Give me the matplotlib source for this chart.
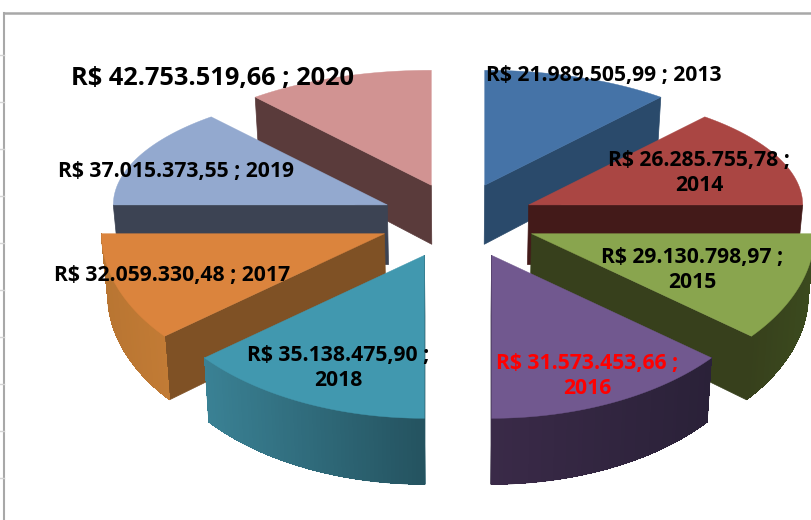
import numpy as np
import matplotlib
matplotlib.use('Agg')
import matplotlib.pyplot as plt
from matplotlib.colors import to_rgb

# slices clockwise from the top, as they sit in the picture
labels = ['R$ 21.989.505,99 ; 2013', 'R$ 26.285.755,78 ;\n2014', 'R$ 29.130.798,97 ;\n2015',
          'R$ 31.573.453,66 ;\n2016', 'R$ 35.138.475,90 ;\n2018', 'R$ 32.059.330,48 ; 2017',
          'R$ 37.015.373,55 ; 2019', 'R$ 42.753.519,66 ; 2020']
# sweep of each slice in degrees (not proportional to the labels)
sweeps = [40, 50, 39, 51, 51, 39, 50, 40]

top_colors = ['#4573A7', '#AA4643', '#89A54E', '#71588F', '#4198AF', '#DB843D', '#93A9CF', '#D19392']
cut_colors = ['#2A4A6B', '#431A19', '#37401C', '#2A2138', '#24525F', '#7F5125', '#3C4353', '#5A3B3B']
rim_left = ['#2A4A6B', '#431A19', '#37401C', '#3A2A48', '#3A8194', '#B87532', '#3C4353', '#5A3B3B']
rim_right = ['#2A4A6B', '#431A19', '#3B4A1E', '#2A2138', '#24525F', '#C27B35', '#3C4353', '#5A3B3B']
label_xy = [(604, 76), (699, 173), (692, 270), (587, 376), (338, 368), (172, 276), (176, 172), (213, 79)]
label_colors = ['black', 'black', 'black', 'red', 'black', 'black', 'black', 'black']
label_sizes = [15.2, 15.2, 15.2, 15.2, 15.2, 15.2, 15.2, 18.3]
draw_order = [0, 7, 1, 6, 2, 5, 3, 4]

cx, cy = 458, 221


def depth(y):
    return 59 + (y - 185) * 7 / 233


def drop(x, y):
    # point on the underside of the slice, slightly pulled in by the perspective
    return cx + (np.asarray(x) - cx) * 0.983, np.asarray(y) + depth(np.asarray(y))


def draw_slice(ax, i, start, end):
    mid = np.radians((start + end) / 2)
    tx = cx + 78 * np.sin(mid)
    ty = cy - 38 * np.cos(mid)
    lower = np.cos(mid) < 0
    rx, ry = (283, 163) if lower else (274, 115)
    t = np.radians(np.linspace(start, end, 60))
    ax_x = tx + rx * np.sin(t)
    ax_y = ty - ry * np.cos(t)

    # flat cut face, the edge turned to the viewer
    if mid < np.pi:
        ex, ey = ax_x[-1], ax_y[-1]
    else:
        ex, ey = ax_x[0], ax_y[0]
    bx, by = drop([tx, ex], [ty, ey])
    ax.fill([tx, ex, bx[1], bx[0]], [ty, ey, by[1], by[0]], color=cut_colors[i], lw=0.5)

    # outer rim: a plain band first, then shaded strips over it
    if lower:
        low_x, low_y = drop(ax_x, ax_y)
        c0, c1 = np.array(to_rgb(rim_left[i])), np.array(to_rgb(rim_right[i]))
        ax.fill(np.r_[ax_x, low_x[::-1]], np.r_[ax_y, low_y[::-1]], color=(c0 + c1) / 2, lw=0.5)
        order = np.argsort(ax_x)
        span = ax_x.max() - ax_x.min()
        for a, b in zip(order[:-1], order[1:]):
            c = c0 + (c1 - c0) * (ax_x[a] - ax_x.min()) / span
            ax.fill([ax_x[a], ax_x[b], low_x[b], low_x[a]], [ax_y[a], ax_y[b], low_y[b], low_y[a]],
                    facecolor=c, edgecolor='none', antialiased=False)

    ax.fill(np.r_[tx, ax_x], np.r_[ty, ax_y], color=top_colors[i], lw=0.3)


fig = plt.figure(figsize=(8.12, 5.2), dpi=100)
ax = fig.add_axes([0, 0, 1, 1])
ax.set_xlim(0, 812)
ax.set_ylim(520, 0)
ax.axis('off')

# chart frame and the bits of sheet grid to the left of it
ax.plot([4, 812], [13, 13], color='#A8A8A8', lw=1.8)
ax.plot([4, 4], [13, 520], color='#A8A8A8', lw=1.5)
for y in range(55, 500, 47):
    ax.plot([0, 4], [y, y], color='#D4D4D4', lw=1)

edges = np.r_[0, np.cumsum(sweeps)]
for i in draw_order:
    draw_slice(ax, i, edges[i], edges[i + 1])

for s, xy, c, fs in zip(labels, label_xy, label_colors, label_sizes):
    ax.text(xy[0], xy[1], s, color=c, fontsize=fs, family='Open Sans', fontweight='bold',
            ha='center', va='center', linespacing=1.3, multialignment='center')

fig.savefig('out.png', dpi=100)
